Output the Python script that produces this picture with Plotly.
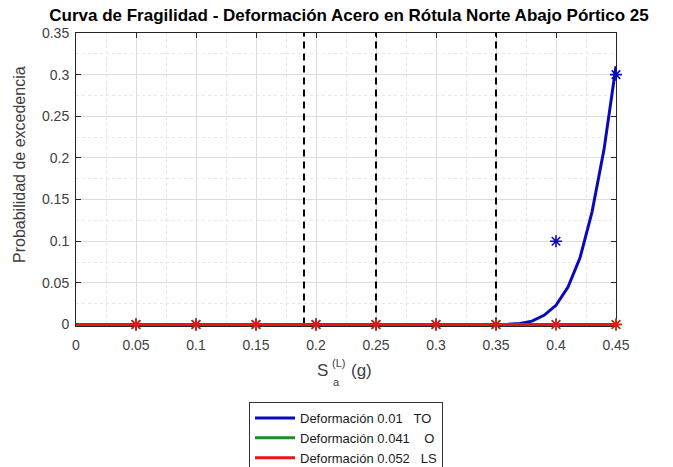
import plotly.graph_objects as go

# ---- data ----
title_text = "Curva de Fragilidad - Deformación Acero en Rótula Norte Abajo Pórtico 25"
im_points = [0.05, 0.10, 0.15, 0.20, 0.25, 0.30, 0.35, 0.40, 0.45]
obs_TO = [0, 0, 0, 0, 0, 0, 0, 0.10, 0.30]
obs_O = [0, 0, 0, 0, 0, 0, 0, 0, 0]
obs_LS = [0, 0, 0, 0, 0, 0, 0, 0, 0]

curve_x = [0.0, 0.05, 0.10, 0.15, 0.20, 0.25, 0.30, 0.35, 0.36, 0.37, 0.38, 0.39,
           0.40, 0.41, 0.42, 0.43, 0.44, 0.45]
curve_TO = [0, 0, 0, 0, 0, 0, 0, 0, 0.0003, 0.0012, 0.004, 0.011,
            0.023, 0.045, 0.080, 0.135, 0.210, 0.310]
curve_O = [0] * len(curve_x)
curve_LS = [0] * len(curve_x)

vlines_x = [0.19, 0.25, 0.35]
x_ticks = [0, 0.05, 0.1, 0.15, 0.2, 0.25, 0.3, 0.35, 0.4, 0.45]
x_tick_labels = ["0", "0.05", "0.1", "0.15", "0.2", "0.25", "0.3", "0.35", "0.4", "0.45"]
y_ticks = [0, 0.05, 0.1, 0.15, 0.2, 0.25, 0.3, 0.35]
y_tick_labels = ["0", "0.05", "0.1", "0.15", "0.2", "0.25", "0.3", "0.35"]
legend_names = ["Deformación 0.01\u00a0\u00a0\u00a0TO",
                "Deformación 0.041\u00a0\u00a0\u00a0\u00a0O",
                "Deformación 0.052\u00a0\u00a0\u00a0LS"]

BLUE = "rgb(10,10,185)"
GREEN = "rgb(30,140,40)"
RED = "rgb(225,25,25)"
FONT = "Liberation Sans, Arial"
GRAYTXT = "#404040"

fig = go.Figure()

# dashed vertical lines
for vx in vlines_x:
    fig.add_trace(go.Scatter(x=[vx, vx], y=[0, 0.35], mode="lines",
                             line=dict(color="black", width=2, dash="7px,5px"),
                             showlegend=False, hoverinfo="skip"))

# curves
for cy, col, name in [(curve_TO, BLUE, legend_names[0]),
                      (curve_O, GREEN, legend_names[1]),
                      (curve_LS, RED, legend_names[2])]:
    fig.add_trace(go.Scatter(x=curve_x, y=cy, mode="lines",
                             line=dict(color=col, width=3), name=name,
                             cliponaxis=False))

# observed points
for oy, col in [(obs_TO, BLUE), (obs_O, GREEN), (obs_LS, RED)]:
    fig.add_trace(go.Scatter(x=im_points, y=oy, mode="markers",
                             marker=dict(symbol="asterisk-open", size=10, color=col,
                                         line=dict(color=col, width=1.6)),
                             showlegend=False, cliponaxis=False))

axis_common = dict(
    showline=True, linecolor="#262626", linewidth=1, mirror="ticks",
    ticks="inside", ticklen=5, tickcolor="#262626",
    showgrid=True, gridcolor="#dedede", gridwidth=1, zeroline=False,
    tickfont=dict(family=FONT, size=14, color=GRAYTXT),
    minor=dict(showgrid=True, gridcolor="#e6e6e6", griddash="dot", ticks=""),
    layer="below traces",
)

fig.update_xaxes(range=[0, 0.45], tickvals=x_ticks, ticktext=x_tick_labels,
                 ticklabelstandoff=6, **axis_common)
fig.update_xaxes(minor_dtick=0.025, minor_tick0=0)
fig.update_yaxes(range=[-0.0018, 0.35], tickvals=y_ticks, ticktext=y_tick_labels,
                 ticklabelstandoff=3, **axis_common)
fig.update_yaxes(minor_dtick=0.025, minor_tick0=0)

# y axis label
fig.add_annotation(xref="paper", yref="paper", x=(19 - 76) / 540, y=(326 - 165) / 293,
                   xanchor="center", yanchor="middle", textangle=-90,
                   text="Probabilidad de excedencia", showarrow=False,
                   font=dict(family=FONT, size=16, color=GRAYTXT))

# x axis label with stacked sub/superscript
lab_font = dict(family=FONT, size=17, color=GRAYTXT)
small_font = dict(family=FONT, size=11, color=GRAYTXT)
fig.add_annotation(xref="paper", yref="paper", x=(330 - 76) / 540, y=-(370 - 326) / 293,
                   xanchor="right", yanchor="middle", text="S", showarrow=False, font=lab_font)
fig.add_annotation(xref="paper", yref="paper", x=(330 - 76) / 540, y=-(363 - 326) / 293,
                   xanchor="left", yanchor="middle", text="(L)", showarrow=False, font=small_font)
fig.add_annotation(xref="paper", yref="paper", x=(331 - 76) / 540, y=-(382 - 326) / 293,
                   xanchor="left", yanchor="middle", text="a", showarrow=False, font=small_font)
fig.add_annotation(xref="paper", yref="paper", x=(349 - 76) / 540, y=-(370 - 326) / 293,
                   xanchor="left", yanchor="middle", text="(g)", showarrow=False, font=lab_font)

fig.update_layout(
    width=673, height=467,
    margin=dict(l=76, r=57, t=33, b=141, autoexpand=False),
    paper_bgcolor="white", plot_bgcolor="white",
    title=dict(text="<b>" + title_text + "</b>", x=349 / 673, xanchor="center",
               y=1 - 15 / 467, yanchor="middle",
               font=dict(family=FONT, size=17, color="black")),
    legend=dict(x=0.5, xanchor="center", y=-(402 - 326) / 293, yanchor="top",
                bgcolor="white", bordercolor="#333333", borderwidth=1,
                font=dict(family=FONT, size=13, color="#1a1a1a"),
                tracegroupgap=0, itemwidth=40),
    showlegend=True,
)

fig.write_html("out.html", config={"displayModeBar": False},
               post_script="document.body.style.margin='0px';document.body.style.padding='0px';")
